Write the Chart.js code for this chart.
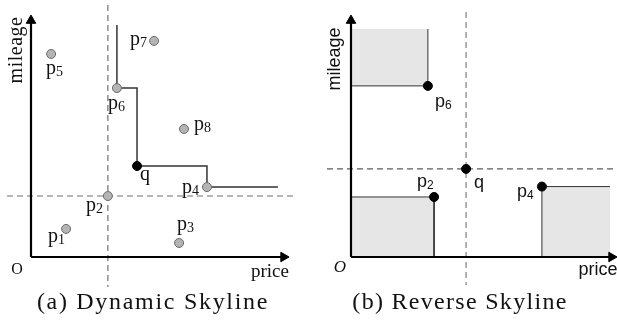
<!DOCTYPE html>
<html><head><meta charset="utf-8">
<script src="https://cdn.jsdelivr.net/npm/chart.js@4/dist/chart.umd.min.js"></script>
<style>
html,body{margin:0;padding:0;background:#fff;width:617px;height:322px;overflow:hidden}
#a{position:absolute;left:0;top:0}
#b{position:absolute;left:300px;top:0}
</style></head>
<body>
<canvas id="a" width="300" height="322"></canvas>
<canvas id="b" width="317" height="322"></canvas>
<script>
// ---------- data: (a) Dynamic Skyline ----------
const leftNames   = ['1','2','3','4','5','6','7','8'];
const leftPrice   = [1.36, 2.98, 5.74, 6.82, 0.78, 3.33, 4.77, 5.93];
const leftMileage = [1.16, 2.52, 0.58, 2.89, 8.39, 6.98, 8.93, 5.29];
const leftQ = [4.11, 3.76];
const skylinePrice   = [3.33, 3.33, 4.11, 4.11, 6.82, 6.82, 9.57];
const skylineMileage = [9.59, 6.98, 6.98, 3.76, 3.76, 2.89, 2.89];

// ---------- data: (b) Reverse Skyline ----------
const rightNames   = ['2','4','6'];
const rightPrice   = [3.22, 7.40, 2.98];
const rightMileage = [2.48, 2.91, 7.07];
const rightQ = [4.46, 3.64];
const rectTopMileage = 9.42;   // upper edge of p6's shaded box
const rectRightPrice = 10.04;  // right edge of p4's shaded box

// ---------- layout (pixels per unit and origin) ----------
const PX = 25.8, PY = 24.2;
const OY = 257;

const annot = {
  id: 'annot',
  afterDatasetsDraw(chart, args, opts) {
    const ctx = chart.ctx, sx = chart.scales.x, sy = chart.scales.y;
    for (const it of opts.items || []) {
      let x = it.px !== undefined ? it.px : sx.getPixelForValue(it.x) + (it.dx || 0);
      let y = it.py !== undefined ? it.py : sy.getPixelForValue(it.y) + (it.dy || 0);
      ctx.save();
      ctx.fillStyle = it.color || '#111';
      ctx.textBaseline = 'alphabetic';
      ctx.translate(x, y);
      if (it.rot) ctx.rotate(it.rot * Math.PI / 180);
      ctx.font = it.font;
      if ('letterSpacing' in ctx) ctx.letterSpacing = it.ls || '0px';
      ctx.textAlign = it.align || 'left';
      ctx.fillText(it.t, 0, 0);
      if (it.s) {
        const w = ctx.measureText(it.t).width;
        ctx.font = it.sfont;
        ctx.textAlign = 'left';
        ctx.fillText(it.s, w, it.sdy || 3);
      }
      ctx.restore();
    }
  }
};
Chart.register(annot);

function seg(xs, ys) { return xs.map((x, i) => ({x, y: ys[i]})); }
function baseOpts(xmin, xmax, items) {
  return {
    responsive: false, animation: false, events: [],
    layout: {padding: 0, autoPadding: false},
    plugins: {legend: {display: false}, tooltip: {enabled: false}, annot: {items}},
    scales: {
      x: {type: 'linear', display: false, min: xmin, max: xmax},
      y: {type: 'linear', display: false, min: -(322 - OY) / PY, max: OY / PY}
    },
    elements: {line: {tension: 0}}
  };
}
function lineDS(data, color, width, dash) {
  return {data, borderColor: color, borderWidth: width, borderDash: dash || [], pointRadius: 0, fill: false, clip: false};
}
function axisDS(data, rot) {
  return {data, borderColor: '#000', borderWidth: 2.2, fill: false, clip: false,
    pointRadius: [0, 5.5], pointStyle: 'triangle', pointRotation: rot,
    pointBackgroundColor: '#000', pointBorderColor: '#000', pointBorderWidth: 1};
}

// ---------- left chart ----------
const lp2x = leftPrice[1], lp2y = leftMileage[1];
const leftOff = [[-18,13],[-22,15],[-2,-13],[-25,6],[-5,20],[-9,21],[-24,4],[10,1]];
const serif = '"Liberation Serif", "DejaVu Serif", serif';
const leftItems = leftNames.map((n, i) => ({
  t: 'p', s: n, x: leftPrice[i], y: leftMileage[i], dx: leftOff[i][0], dy: leftOff[i][1],
  font: '20px ' + serif, sfont: '14px ' + serif, sdy: 2
}));
leftItems.push({t: 'q', x: leftQ[0], y: leftQ[1], dx: 3, dy: 14, font: '20px ' + serif});
leftItems.push({t: 'mileage', px: 22, py: 50, rot: -90, align: 'center', font: '20px ' + serif, ls: '0.5px'});
leftItems.push({t: 'price', px: 270, py: 277, align: 'center', font: '19px ' + serif});
leftItems.push({t: 'O', px: 17, py: 274, align: 'center', font: '16px ' + serif});
leftItems.push({t: '(a) Dynamic Skyline', px: 153, py: 309, align: 'center', font: '24px ' + serif, ls: '1.7px'});

new Chart(document.getElementById('a'), {
  type: 'line',
  data: {datasets: [
    {data: [{x: leftQ[0], y: leftQ[1]}], showLine: false, pointRadius: 4.5, pointBackgroundColor: '#000', pointBorderColor: '#000', clip: false},
    {data: seg(leftPrice, leftMileage), showLine: false, pointRadius: 4.5, pointBackgroundColor: '#b4b4b4', pointBorderColor: '#6a6a6a', pointBorderWidth: 1, clip: false},
    axisDS([{x: 0, y: 0}, {x: 0, y: 9.77}], 0),
    axisDS([{x: 0, y: 0}, {x: 9.79, y: 0}], 90),
    lineDS(seg(skylinePrice, skylineMileage), '#333', 1.5),
    lineDS([{x: lp2x, y: 10.41}, {x: lp2x, y: -1.24}], '#707070', 1.2, [6, 4]),
    lineDS([{x: -0.93, y: lp2y}, {x: 10.23, y: lp2y}], '#707070', 1.2, [6, 4])
  ]},
  options: baseOpts(-31 / PX, (300 - 31) / PX, leftItems)
});

// ---------- right chart ----------
const [r2x, r4x, r6x] = rightPrice, [r2y, r4y, r6y] = rightMileage;
const rightOff = [[-17,-10],[-25,10],[7,21]];
const sans = '"Liberation Sans", Arial, sans-serif';
const rightItems = rightNames.map((n, i) => ({
  t: 'p', s: n, x: rightPrice[i], y: rightMileage[i], dx: rightOff[i][0], dy: rightOff[i][1],
  font: '18px ' + sans, sfont: '12px ' + sans, sdy: 2
}));
rightItems.push({t: 'q', x: rightQ[0], y: rightQ[1], dx: 8, dy: 19, font: '18px ' + sans});
rightItems.push({t: 'mileage', px: 40, py: 59, rot: -90, align: 'center', font: '18px ' + sans});
rightItems.push({t: 'price', px: 298, py: 275, align: 'center', font: '18px ' + sans});
rightItems.push({t: 'O', px: 40, py: 272, align: 'center', font: 'italic 17px ' + serif});
rightItems.push({t: '(b) Reverse Skyline', px: 160, py: 309, align: 'center', font: '24px ' + serif, ls: '1.3px'});

const fillC = '#e6e6e6';
new Chart(document.getElementById('b'), {
  type: 'line',
  data: {datasets: [
    {data: seg(rightPrice, rightMileage).concat([{x: rightQ[0], y: rightQ[1]}]), showLine: false, pointRadius: 4.5, pointBackgroundColor: '#000', pointBorderColor: '#000', clip: false},
    axisDS([{x: 0, y: 0}, {x: 0, y: 9.77}], 0),
    axisDS([{x: 0, y: 0}, {x: 10.10, y: 0}], 90),
    lineDS([{x: 0, y: r6y}, {x: r6x, y: r6y}, {x: r6x, y: rectTopMileage}], '#333', 1),
    lineDS([{x: 0, y: r2y}, {x: r2x, y: r2y}, {x: r2x, y: 0}], '#333', 1),
    lineDS([{x: r4x, y: 0}, {x: r4x, y: r4y}, {x: rectRightPrice, y: r4y}], '#333', 1),
    {data: [{x: 0, y: rectTopMileage}, {x: r6x, y: rectTopMileage}], borderWidth: 0, pointRadius: 0, fill: {value: r6y}, backgroundColor: fillC, clip: false},
    {data: [{x: 0, y: r2y}, {x: r2x, y: r2y}], borderWidth: 0, pointRadius: 0, fill: 'origin', backgroundColor: fillC, clip: false},
    {data: [{x: r4x, y: r4y}, {x: rectRightPrice, y: r4y}], borderWidth: 0, pointRadius: 0, fill: 'origin', backgroundColor: fillC, clip: false},
    lineDS([{x: rightQ[0], y: 10.12}, {x: rightQ[0], y: -1.16}], '#808080', 1.2, [6, 4]),
    lineDS([{x: -0.93, y: rightQ[1]}, {x: 10.31, y: rightQ[1]}], '#333', 1, [6, 4])
  ]},
  options: baseOpts(-51 / PX, (317 - 51) / PX, rightItems)
});
</script>
</body></html>
